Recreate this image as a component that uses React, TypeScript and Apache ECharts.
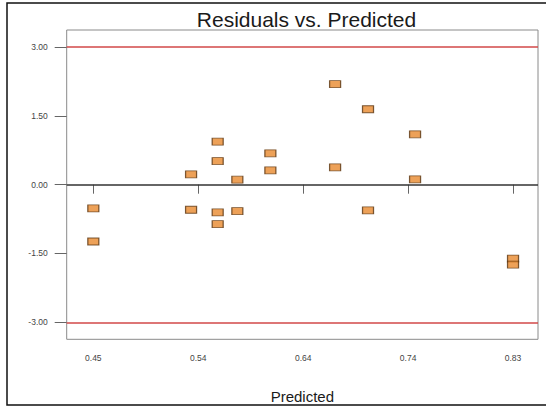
import React, { useEffect, useRef } from "react";
import * as echarts from "echarts";

const predicted: number[] = [
  0.45, 0.45,
  0.5385, 0.5385,
  0.5626, 0.5626, 0.5626, 0.5626,
  0.5804, 0.5804,
  0.6103, 0.6103,
  0.6689, 0.6689,
  0.6987, 0.6987,
  0.7413, 0.7413,
  0.83, 0.83,
];
const residuals: number[] = [
  -0.518, -1.239,
  0.225, -0.546,
  0.939, 0.516, -0.605, -0.861,
  0.109, -0.577,
  0.684, 0.312,
  2.191, 0.378,
  1.645, -0.561,
  1.099, 0.116,
  -1.61, -1.741,
];
const xTickValues: number[] = [0.45, 0.545, 0.64, 0.735, 0.83];
const xTickLabels: string[] = ["0.45", "0.54", "0.64", "0.74", "0.83"];
const yTickValues: number[] = [-3, -1.5, 0, 1.5, 3];
const limitLines: number[] = [3, -3];
const zeroLine: number[] = [0];

export default function App() {
  const ref = useRef<HTMLDivElement>(null);
  useEffect(() => {
    if (!ref.current) return;
    const chart = echarts.init(ref.current, null, { renderer: "svg" });
    const font = "'Liberation Sans', Arial, sans-serif";
    chart.setOption({
      animation: false,
      backgroundColor: "#ffffff",
      title: {
        text: "Residuals vs. Predicted",
        left: 301.5,
        top: 4,
        textAlign: "center",
        textStyle: { fontFamily: font, fontSize: 21, fontWeight: "normal", color: "#1a1a1a" },
      },
      graphic: [
        {
          type: "rect",
          shape: { x: 7, y: 3, width: 545, height: 402 },
          style: { fill: "none", stroke: "#111", lineWidth: 1.5 },
          silent: true,
          z: 0,
        },
      ],
      grid: {
        left: 66.7,
        top: 30,
        right: 8,
        bottom: 66.7,
        show: true,
        borderColor: "#8a8a8a",
        borderWidth: 1,
        containLabel: false,
        outerBoundsMode: "none",
      },
      xAxis: {
        type: "value",
        min: 0.4259,
        max: 0.8526,
        name: "Predicted",
        nameLocation: "middle",
        nameGap: 50,
        nameTextStyle: { fontFamily: font, fontSize: 15, color: "#1a1a1a" },
        axisLine: { show: false },
        splitLine: { show: false },
        axisTick: { show: true, length: 9, customValues: xTickValues, lineStyle: { color: "#666" } },
        axisLabel: {
          customValues: xTickValues,
          margin: 14,
          fontFamily: font,
          fontSize: 8.5,
          color: "#444",
          formatter: (v: number) => {
            let best = 0;
            xTickValues.forEach((t, i) => {
              if (Math.abs(t - v) < Math.abs(xTickValues[best] - v)) best = i;
            });
            return xTickLabels[best];
          },
        },
      },
      yAxis: {
        type: "value",
        min: -3.371,
        max: 3.373,
        axisLine: { show: false },
        splitLine: { show: false },
        axisTick: { show: true, length: 12, customValues: yTickValues, lineStyle: { color: "#666" } },
        axisLabel: {
          customValues: yTickValues,
          margin: 19,
          fontFamily: font,
          fontSize: 8.5,
          color: "#444",
          formatter: (v: number) => v.toFixed(2),
        },
      },
      series: [
        {
          type: "scatter",
          symbol: "rect",
          symbolSize: [11, 7],
          itemStyle: { color: "#e8892e", borderColor: "#5a3510", borderWidth: 1 },
          data: predicted.map((x, i) => [x, residuals[i]]),
          z: 5,
          markLine: {
            silent: true,
            symbol: "none",
            label: { show: false },
            lineStyle: { color: "#d24848", width: 1.5, type: "solid" },
            data: [
              ...limitLines.map((v) => ({ yAxis: v })),
              ...zeroLine.map((v) => ({ yAxis: v, lineStyle: { color: "#333", width: 1.5, type: "solid" } })),
            ],
          },
        },
      ],
    });
    return () => chart.dispose();
  }, []);
  return (
    <div
      ref={ref}
      style={{ position: "fixed", left: 0, top: 0, width: 546, height: 406 }}
    />
  );
}
